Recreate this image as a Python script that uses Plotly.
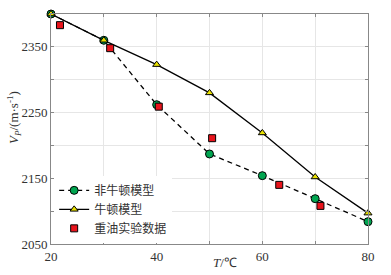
import plotly.graph_objects as go

temps = [20, 30, 40, 50, 60, 70, 80]
non_newton = [2400, 2360, 2262, 2187, 2154, 2119, 2084]
newton = [2400, 2360, 2323, 2280, 2219, 2152, 2097]
exp_t = [21.7, 31.2, 40.4, 50.5, 63.2, 71.0]
exp_v = [2383, 2348, 2259, 2211, 2140, 2108]

x_ticks = [20, 40, 60, 80]
y_ticks = [2050, 2150, 2250, 2350]

fig = go.Figure()
fig.add_trace(go.Scatter(
    x=temps, y=non_newton, name="非牛顿模型", mode="lines+markers", cliponaxis=False,
    line=dict(color="black", width=1.3, dash="5px,4px"),
    marker=dict(symbol="circle", size=8, color="#00a550", line=dict(color="black", width=1)),
))
fig.add_trace(go.Scatter(
    x=temps, y=newton, name="牛顿模型", mode="lines+markers", cliponaxis=False,
    line=dict(color="black", width=1.3),
    marker=dict(symbol="triangle-up", size=7, color="#e8e000", line=dict(color="black", width=1)),
))
fig.add_trace(go.Scatter(
    x=exp_t, y=exp_v, name="重油实验数据", mode="markers", cliponaxis=False,
    marker=dict(symbol="square", size=7, color="#e8141c", line=dict(color="black", width=1)),
))

serif = "Liberation Serif, Times New Roman, serif"
fig.update_layout(
    width=391, height=275,
    margin=dict(l=51, r=23, t=14, b=31),
    paper_bgcolor="white", plot_bgcolor="white",
    font=dict(family=serif, size=13, color="#333"),
    showlegend=True,
    legend=dict(
        x=0.01, y=0.005, xanchor="left", yanchor="bottom",
        bgcolor="white", borderwidth=0,
        font=dict(family="Noto Sans CJK SC", size=12, color="#333"),
        tracegroupgap=0, itemwidth=30,
    ),
    annotations=[
        dict(text="<i>T</i>/℃", x=0.55, y=-0.04, xref="paper", yref="paper",
             xanchor="center", yanchor="top", showarrow=False,
             font=dict(family=serif, size=13, color="#333")),
        dict(text="<i>V</i><sub><i>P</i></sub>/(m·s<sup>-1</sup>)", x=-0.115, y=0.55,
             xref="paper", yref="paper", textangle=-90, showarrow=False,
             xanchor="center", yanchor="middle",
             font=dict(family=serif, size=13, color="#333")),
    ],
)
fig.update_xaxes(
    range=[20, 80], tickvals=x_ticks, ticks="inside", ticklen=3,
    showline=True, linecolor="#888", linewidth=1, mirror="ticks",
    showgrid=True, gridcolor="#e6e6e6", gridwidth=1,
    minor=dict(dtick=10, tick0=20, showgrid=True, gridcolor="#e6e6e6", ticks="inside", ticklen=3, tickcolor="#888"),
    tickcolor="#888", zeroline=False,
)
fig.update_yaxes(
    range=[2050, 2400], tickvals=y_ticks, ticks="inside", ticklen=3,
    showline=True, linecolor="#888", linewidth=1, mirror="ticks",
    showgrid=True, gridcolor="#e6e6e6", gridwidth=1,
    minor=dict(dtick=50, tick0=2050, showgrid=True, gridcolor="#e6e6e6", ticks="inside", ticklen=3, tickcolor="#888"),
    tickcolor="#888", zeroline=False,
)

fig.write_html("out.html", config={"displayModeBar": False},
               post_script="document.body.style.margin='0';")
